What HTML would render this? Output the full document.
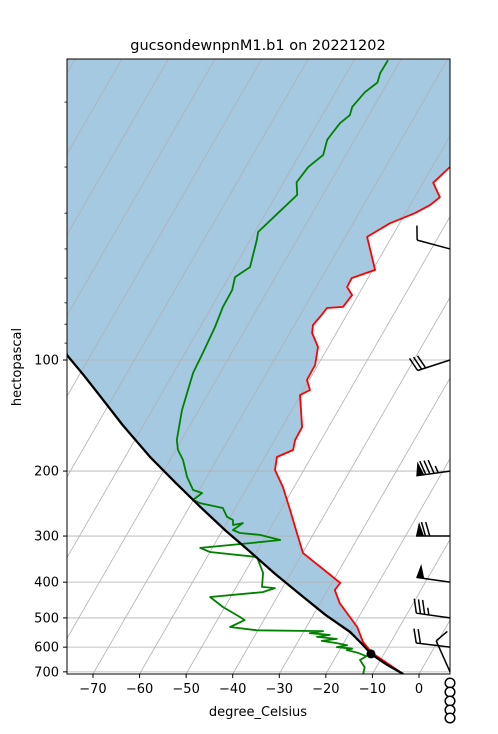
<!DOCTYPE html>
<html><head><meta charset="utf-8"><style>
html,body{margin:0;padding:0;background:#fff;}
svg{display:block;font-family:"DejaVu Sans","Liberation Sans",sans-serif;}
</style></head><body>
<svg id="chart" width="498" height="734" viewBox="0 0 498 734" xmlns="http://www.w3.org/2000/svg">
<defs><clipPath id="plotclip"><rect x="67" y="59" width="383" height="615"/></clipPath></defs>
<rect x="0" y="0" width="498" height="734" fill="#fff"/>
<text x="258" y="50" text-anchor="middle" font-size="14.5">gucsondewnpnM1.b1 on 20221202</text>
<g id="plot" clip-path="url(#plotclip)"></g>
<g id="axes"></g>
<text x="21" y="367" text-anchor="middle" font-size="13" transform="rotate(-90 21 367)">hectopascal</text>
<text x="258" y="716" text-anchor="middle" font-size="13">degree_Celsius</text>
</svg>
<script>
// ---- data ----
const tempP = [14,16,25,30.0,33.1,36.2,38.0,40.0,42.6,46.4,57.0,60.0,63.4,66.7,71.8,72.3,76.4,80.4,84.5,92.2,103.2,113.3,120.6,124.5,152.0,164.8,175.3,183.2,198.6,220.9,255.0,294.3,333.6,387.3,402,420,456,529,581,622,709.6];
const tempT = [-40,-50,-52,-56.2,-57.8,-54.6,-55.7,-58.0,-62.1,-65.3,-59.5,-63.5,-63.4,-61.3,-61.8,-65.1,-65.5,-66.0,-65.2,-62.2,-60.6,-60.5,-58.6,-60.1,-55.7,-55.6,-54.8,-57.4,-56.2,-52.4,-48.0,-43.7,-39.9,-30.5,-28.2,-28.5,-25.8,-19.1,-16.0,-12.7,-3.4];
const dewP = [15.4,16.7,17.7,18.8,20.6,21.7,22.8,24.1,25.3,27.8,30.0,33.0,35.7,40.0,45.0,47.3,56.0,59.6,64.6,71.8,81.4,95.7,108.4,122.9,136.6,164.8,175.3,186.6,207.5,225.0,229.3,239.5,244.2,251.8,266.1,271.6,280.0,276.7,288.9,294.3,297.9,307.5,313.4,323.0,331.4,341.8,377.6,412.1,415.0,425.6,438.8,467.2,497,507,529,540,543,550,556,563,570,577,585,593,600,606,611,622,635,650,680,714];
const dewT = [-82.7,-82.8,-82.2,-83.7,-84.6,-84.1,-85.2,-85.6,-85.9,-84.9,-86.6,-87.2,-85.5,-87.4,-89.3,-88.6,-86.7,-88.7,-87.7,-87.6,-86.8,-86.2,-85.8,-84.6,-83.6,-81.0,-79.5,-77.2,-74.2,-71.3,-69.0,-70.1,-68.2,-62.7,-60.7,-59.0,-58.4,-56.5,-57.8,-55.9,-51.4,-46.4,-52.5,-62.6,-60.0,-49.3,-46.0,-44.5,-41.6,-43.7,-54.4,-50.4,-45.5,-44.1,-46.4,-40.2,-25.9,-28.5,-24.0,-26.5,-22.0,-25.0,-21.5,-19.0,-21.0,-17.5,-18.5,-15.7,-13.5,-14.4,-12.5,-11.9];
const parcelP = [14,50,97,110,125,150,183,215,250,290,331,380,431,490,546,590,626,670,709.6];
const parcelT = [-200,-135,-115.1,-109.0,-103.0,-94.5,-84.7,-76.0,-67.7,-59.3,-51.4,-43.3,-35.5,-27.5,-20.0,-15.8,-12.8,-8.0,-3.4];
const lclP = 626, lclT = -12.8;
const yTickLabels = [100,200,300,400,500,600,700];
const yMinorTicks = [20,30,40,50,60,70,80,90];
const xTickLabels = [-70,-60,-50,-40,-30,-20,-10,0];
const barbP = [50,100,200,300,400,500,600,700];
const barbDir = [285,252,262,270,278,278,277,336];
const barbSpd = [10,30,85,70,50,35,20,10];

// ---- axis functions ----
const X0=67,X1=450,Y0=59,Y1=674;
function Y(p){return 360+369*Math.log10(p/100);}
function X(T,p){return 419+4.657*T+0.577*(Y1-Y(p));}
const NS="http://www.w3.org/2000/svg";
function mk(tag,attrs,parent){const e=document.createElementNS(NS,tag);for(const k in attrs)e.setAttribute(k,attrs[k]);parent.appendChild(e);return e;}
const plot=document.getElementById('plot'), axes=document.getElementById('axes');

// shading
let pts=[];
for(let i=0;i<tempP.length;i++)pts.push(X(tempT[i],tempP[i]).toFixed(1)+','+Y(tempP[i]).toFixed(1));
for(let i=parcelP.length-1;i>=0;i--)pts.push(X(parcelT[i],parcelP[i]).toFixed(1)+','+Y(parcelP[i]).toFixed(1));
const shade=mk('polygon',{points:pts.join(' '),fill:'rgba(31,119,180,0.4)',stroke:'none'},plot);



// isotherms
for(let T=-160;T<=40;T+=10){
  const l=mk('line',{x1:X(T,709.6),y1:Y1,x2:X(T,14),y2:Y(14),stroke:'#b0b0b0','stroke-width':0.8},plot);
  
  
}
// horizontal grid
yTickLabels.forEach(p=>{
  const l=mk('line',{x1:X0,y1:Y(p),x2:X1,y2:Y(p),stroke:'#b0b0b0','stroke-width':0.8},plot);
  
  
});
function polyline(P,T,color,w,name){
  const s=P.map((p,i)=>X(T[i],p).toFixed(1)+','+Y(p).toFixed(1)).join(' ');
  const e=mk('polyline',{points:s,fill:'none',stroke:color,'stroke-width':w,'stroke-linejoin':'round'},plot);
  
  
}
polyline(tempP,tempT,'#ff0000',1.8,'temperature-line');
polyline(dewP,dewT,'#008000',1.8,'dewpoint-line');
polyline(parcelP,parcelT,'#000000',2.3,'parcel-profile-line');
const lcl=mk('circle',{cx:X(lclT,lclP),cy:Y(lclP),r:4.5,fill:'#000'},plot);



// wind barbs
barbP.forEach((p,i)=>{
  const g=mk('g',{},axes);
  
  
  const bx=X1,by=Y(p),r=barbDir[i]*Math.PI/180;
  const dx=Math.sin(r),dy=-Math.cos(r),nx=-dy,ny=dx,L=34;
  const tx=bx+dx*L,ty=by+dy*L;
  mk('line',{x1:bx,y1:by,x2:tx,y2:ty,stroke:'#000','stroke-width':1.5},g);
  let spd=barbSpd[i],s=0;
  const flags=Math.floor(spd/50);spd-=flags*50;
  const full=Math.floor(spd/10);spd-=full*10;
  const half=spd>=5;
  for(let f=0;f<flags;f++){
    const ax=tx-dx*s,ay=ty-dy*s,cx=tx-dx*(s+8),cy=ty-dy*(s+8);
    const px=ax+nx*14-dx*3,py=ay+ny*14-dy*3;
    mk('polygon',{points:`${ax},${ay} ${px},${py} ${cx},${cy}`,fill:'#000'},g);s+=9.5;
  }
  for(let f=0;f<full;f++){
    const ax=tx-dx*s,ay=ty-dy*s;
    mk('line',{x1:ax,y1:ay,x2:ax+nx*14+dx*4,y2:ay+ny*14+dy*4,stroke:'#000','stroke-width':1.5},g);s+=4.2;
  }
  if(half){
    if(flags+full===0)s=4.2;
    const ax=tx-dx*s,ay=ty-dy*s;
    mk('line',{x1:ax,y1:ay,x2:ax+nx*7+dx*2,y2:ay+ny*7+dy*2,stroke:'#000','stroke-width':1.5},g);
  }
});
// calm barbs below axis
[683,692,701,710,718].forEach(cy=>{
  const c=mk('circle',{cx:X1,cy:cy,r:4.8,fill:'#fff',stroke:'#000','stroke-width':1.5},axes);
  
  
});

// frame
const fr=mk('rect',{x:X0,y:Y0,width:X1-X0,height:Y1-Y0,fill:'none',stroke:'#000','stroke-width':1},axes);


// y ticks
yTickLabels.forEach(p=>{
  mk('line',{x1:X0-4,y1:Y(p),x2:X0,y2:Y(p),stroke:'#000','stroke-width':1},axes);
  const t=mk('text',{x:X0-8,y:Y(p)+4.5,'text-anchor':'end','font-size':13},axes);
  t.textContent=p;
  
  
});
yMinorTicks.forEach(p=>{
  const l=mk('line',{x1:X0-2.5,y1:Y(p),x2:X0,y2:Y(p),stroke:'#000','stroke-width':0.8},axes);
  
  
});
// x ticks
xTickLabels.forEach(T=>{
  const x=X(T,709.6);
  mk('line',{x1:x,y1:Y1,x2:x,y2:Y1+4,stroke:'#000','stroke-width':1},axes);
  const t=mk('text',{x:x,y:Y1+19,'text-anchor':'middle','font-size':13},axes);
  t.textContent=(T<0?'\u2212'+(-T):T);
  
  
});
</script>
</body></html>
